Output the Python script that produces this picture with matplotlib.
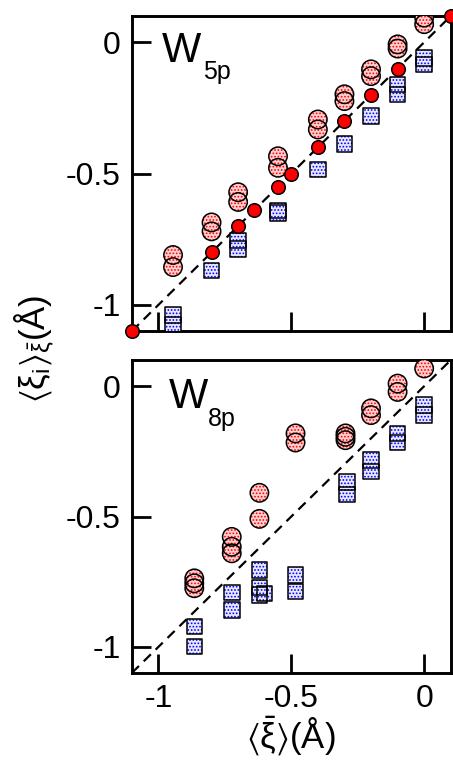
import numpy as np
import matplotlib
matplotlib.use("Agg")
from matplotlib import pyplot as plt

plt.rcParams["font.family"] = ["Liberation Sans", "DejaVu Sans"]
plt.rcParams["mathtext.fontset"] = "custom"
plt.rcParams["mathtext.rm"] = "Liberation Sans"
plt.rcParams["mathtext.it"] = "Liberation Sans:italic"
plt.rcParams["mathtext.fallback"] = "stixsans"
plt.rcParams["hatch.linewidth"] = 0.8

# W5p panel
x5_circ = [-0.945, -0.945, -0.8, -0.8, -0.7, -0.7, -0.55, -0.55, -0.4, -0.4,
           -0.3, -0.3, -0.2, -0.2, -0.1, -0.1, 0.0, 0.0]
y5_circ = [-0.81, -0.856, -0.686, -0.72, -0.571, -0.608, -0.434, -0.478, -0.294, -0.332,
           -0.198, -0.224, -0.103, -0.129, -0.008, -0.024, 0.094, 0.069]
x5_sq = [-0.945, -0.945, -0.8, -0.7, -0.7, -0.55, -0.55, -0.4, -0.3, -0.2, -0.1, -0.1, 0.0, 0.0]
y5_sq = [-1.038, -1.076, -0.869, -0.754, -0.787, -0.64, -0.65, -0.485, -0.387, -0.281,
         -0.16, -0.198, -0.06, -0.085]
x5_ref = [-1.1, -0.8, -0.7, -0.64, -0.55, -0.5, -0.4, -0.3, -0.2, -0.1, 0.1]
y5_ref = [-1.1, -0.8, -0.7, -0.64, -0.55, -0.5, -0.4, -0.3, -0.2, -0.1, 0.1]

# W8p panel
x8_circ = [0.0, -0.1, -0.1, -0.2, -0.2, -0.296, -0.296, -0.296, -0.484, -0.484,
           -0.62, -0.62, -0.724, -0.724, -0.724, -0.865, -0.865, -0.865]
y8_circ = [0.068, 0.01, -0.022, -0.085, -0.111, -0.181, -0.194, -0.207, -0.181, -0.216,
           -0.409, -0.509, -0.578, -0.616, -0.641, -0.737, -0.756, -0.775]
x8_sq = [0.0, 0.0, -0.1, -0.1, -0.2, -0.2, -0.29, -0.29, -0.484, -0.484,
         -0.62, -0.62, -0.6, -0.62, -0.724, -0.724, -0.865, -0.865]
y8_sq = [-0.073, -0.111, -0.181, -0.216, -0.284, -0.328, -0.367, -0.415, -0.724, -0.788,
         -0.705, -0.772, -0.795, -0.8, -0.792, -0.858, -0.922, -0.999]

ticks = [-1, -0.5, 0]
tick_labels = ["-1", "-0.5", "0"]
lim = (-1.1, 0.1)


def hatched(ax, x, y, marker, s, face, dots):
    # fill + dot pattern, then black outline on top
    with plt.rc_context({"hatch.color": dots}):
        ax.scatter(x, y, s=s, marker=marker, facecolor=face, edgecolor=dots,
                   linewidth=0, hatch=".....", zorder=3)
    ax.scatter(x, y, s=s, marker=marker, facecolor="none", edgecolor="black",
               linewidth=1.1, zorder=4)


def style(ax, show_x):
    ax.set_xlim(lim)
    ax.set_ylim(lim)
    ax.plot(lim, lim, ls=(0, (4.5, 3)), color="black", lw=1.6, zorder=2)
    ax.set_xticks(ticks)
    ax.set_yticks(ticks)
    ax.set_yticklabels(tick_labels)
    if show_x:
        ax.set_xticklabels(tick_labels)
    else:
        ax.set_xticklabels([])
    ax.tick_params(direction="in", length=14, width=2, labelsize=23, pad=8)
    for sp in ax.spines.values():
        sp.set_linewidth(2.1)


fig = plt.figure(figsize=(4.53, 7.63), dpi=100)
ax1 = fig.add_axes([0.291, 0.566, 0.704, 0.413])
ax2 = fig.add_axes([0.291, 0.118, 0.704, 0.410])

style(ax1, False)
hatched(ax1, x5_circ, y5_circ, "o", 175, "#ffd0d0", "red")
hatched(ax1, x5_sq, y5_sq, "s", 125, "#e8e8ff", "blue")
ax1.scatter(x5_ref, y5_ref, s=95, marker="o", facecolor="red", edgecolor="black",
            linewidth=1.1, zorder=5, clip_on=False)
ax1.text(0.095, 0.854, "W", transform=ax1.transAxes, fontsize=30)
ax1.text(0.222, 0.80, "5p", transform=ax1.transAxes, fontsize=18)

style(ax2, True)
hatched(ax2, x8_circ, y8_circ, "o", 175, "#ffd0d0", "red")
hatched(ax2, x8_sq, y8_sq, "s", 125, "#e8e8ff", "blue")
ax2.text(0.115, 0.847, "W", transform=ax2.transAxes, fontsize=30)
ax2.text(0.237, 0.79, "8p", transform=ax2.transAxes, fontsize=18)

ax2.set_xlabel(r"$\langle\bar{\mathrm{\xi}}\rangle$(Å)", fontsize=25, labelpad=0)
fig.text(0.075, 0.543, r"$\langle\mathrm{\xi_i}\rangle_{\bar{\mathrm{\xi}}}$(Å)",
         rotation=90, fontsize=25, ha="center", va="center")

fig.savefig("out.png", dpi=100)
